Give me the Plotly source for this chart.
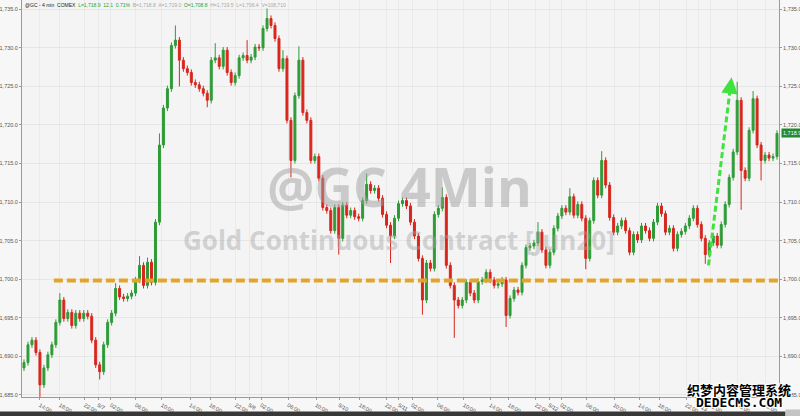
import plotly.graph_objects as go

# ---------------- data ----------------
CLOSES = [
    1689.2, 1691.5, 1692.1, 1690.5, 1686.3, 1688.5, 1690.2, 1691.5, 1694.4, 1697.3,
    1694.9, 1695.7, 1694.0, 1695.6, 1694.9, 1695.6, 1695.2, 1692.1, 1688.9, 1688.0,
    1691.5, 1694.4, 1695.6, 1698.8, 1697.7, 1697.5, 1697.8, 1698.2, 1699.9, 1701.8,
    1699.2, 1702.2, 1699.6, 1707.4, 1717.4, 1722.2, 1724.7, 1730.3, 1731.0, 1728.4,
    1727.3, 1726.8, 1725.5, 1725.2, 1724.7, 1724.1, 1723.2, 1728.4, 1728.7, 1727.6,
    1729.7, 1726.8, 1725.5, 1726.4, 1728.7, 1729.0, 1728.4, 1728.8, 1730.1, 1730.0,
    1732.5, 1733.8, 1732.9, 1731.2, 1727.3, 1728.6, 1720.6, 1715.4, 1723.8, 1728.4,
    1721.6, 1720.6, 1715.4, 1715.9, 1713.1, 1709.3, 1708.9, 1706.3, 1709.3, 1705.3,
    1709.6, 1708.3, 1708.9, 1708.1, 1707.9, 1710.2, 1712.3, 1711.5, 1711.8, 1710.5,
    1708.4, 1707.0, 1705.6, 1707.9, 1709.8, 1710.2, 1709.5, 1707.4, 1705.6, 1702.7,
    1697.3, 1702.1, 1701.4, 1708.4, 1709.2, 1710.6, 1701.8, 1699.2, 1697.3, 1696.6,
    1697.3, 1699.6, 1698.2, 1697.3, 1699.7, 1699.9, 1700.9, 1699.9, 1699.2, 1699.4,
    1699.9, 1695.3, 1697.5, 1698.6, 1698.3, 1701.8, 1704.1, 1704.3, 1704.7, 1706.1,
    1703.8, 1701.8, 1703.5, 1706.6, 1708.2, 1709.2, 1708.7, 1710.7, 1708.3, 1709.7,
    1707.9, 1702.7, 1707.6, 1712.8, 1710.9, 1715.4, 1712.2, 1708.0, 1706.1, 1706.9,
    1707.6, 1706.3, 1703.5, 1705.8, 1705.1, 1706.9, 1706.3, 1705.3, 1707.4, 1709.5,
    1708.5, 1706.1, 1706.6, 1704.0, 1705.8, 1706.2, 1706.9, 1707.9, 1709.2, 1707.1,
    1705.3, 1703.2, 1704.7, 1705.6, 1704.4, 1707.1, 1709.7, 1713.2, 1716.5, 1723.2,
    1714.1, 1713.1, 1719.3, 1723.4, 1717.4, 1715.4, 1716.1, 1715.7, 1715.9, 1718.9,
]
FIRST_OPEN = 1688.5

# notable wick extremes: candle index -> (high, low); None = body edge
WICK_EXTREMES = {
    4: (None, 1684.6), 9: (1698.2, None), 19: (None, 1687.0), 23: (1699.5, None),
    29: (1703.0, None), 31: (1702.8, None), 34: (1718.9, None), 38: (1732.9, None),
    39: (None, 1725.0), 46: (None, 1722.3), 48: (1730.6, None), 56: (1731.0, None),
    61: (1735.1, None), 65: (1729.7, None), 67: (None, 1713.2), 69: (1730.2, None),
    79: (None, 1703.2), 86: (1713.7, None), 92: (None, 1702.1), 100: (None, 1695.4),
    105: (1711.9, None), 108: (None, 1692.4), 121: (None, 1693.8), 129: (1707.4, None),
    137: (1711.8, None), 141: (None, 1701.3), 145: (1716.6, None), 171: (None, 1702.0),
    179: (1725.6, None), 180: (None, 1709.0), 183: (1724.4, None), 185: (None, 1712.8),
}
WICK = 0.4

TICK_POS = [4.0, 9.0, 15.3, 18.6, 21.8, 28.1, 34.6, 41.7, 46.7, 53.2, 56.5, 59.5,
            66.3, 73.3, 79.1, 84.3, 90.9, 94.1, 97.4, 103.9, 110.4, 117.0, 121.7,
            128.5, 131.8, 134.8, 141.3, 148.1, 154.4, 159.4, 166.2, 169.2, 172.2,
            179.2, 186.0]
TICK_TEXT = ["14:00", "18:00", "22:00", "5/7", "02:00", "06:00", "10:00", "14:00",
             "18:00", "22:00", "5/8", "02:00", "06:00", "10:00", "5/10", "18:00",
             "22:00", "5/11", "02:00", "06:00", "10:00", "14:00", "18:00", "22:00",
             "5/12", "02:00", "06:00", "10:00", "14:00", "18:00", "22:00", "5/13",
             "02:00", "06:00", "10:00"]

Y_TICKS = [1685, 1690, 1695, 1700, 1705, 1710, 1715, 1720, 1725, 1730, 1735]
Y_RANGE = [1684.73, 1736.2]

SUPPORT_LEVEL = 1699.85
SUPPORT_START = 7.5
ARROW_FROM = (171.8, 1701.8)
ARROW_TO = (177.6, 1726.2)
LAST_PRICE = 1718.9

# ---------------- build OHLC ----------------
n = len(CLOSES)
idx = list(range(n))
opens = [FIRST_OPEN] + CLOSES[:-1]
highs, lows = [], []
for i in idx:
    o, c = opens[i], CLOSES[i]
    h = max(o, c) + WICK
    l = min(o, c) - WICK
    if i in WICK_EXTREMES:
        eh, el = WICK_EXTREMES[i]
        if eh is not None:
            h = max(h, eh)
        if el is not None:
            l = min(l, el)
    highs.append(h)
    lows.append(l)

GREEN = "#2e9b37"
RED = "#d8261d"

fig = go.Figure()
fig.add_trace(go.Candlestick(
    x=idx, open=opens, high=highs, low=lows, close=CLOSES,
    increasing=dict(line=dict(color=GREEN, width=1), fillcolor=GREEN),
    decreasing=dict(line=dict(color=RED, width=1), fillcolor=RED),
    whiskerwidth=0, showlegend=False, hoverinfo="skip",
))
# support line (on left overlay axis so that axis renders)
fig.add_trace(go.Scatter(
    x=[SUPPORT_START, n - 0.5], y=[SUPPORT_LEVEL, SUPPORT_LEVEL], yaxis="y2",
    mode="lines", line=dict(color="#e2a52c", width=4, dash="9px,4px"),
    showlegend=False, hoverinfo="skip",
))

# green dashed arrow
fig.add_shape(type="line", xref="x", yref="y",
              x0=ARROW_FROM[0], y0=ARROW_FROM[1],
              x1=ARROW_FROM[0] + (ARROW_TO[0] - ARROW_FROM[0]) * 0.93,
              y1=ARROW_FROM[1] + (ARROW_TO[1] - ARROW_FROM[1]) * 0.93,
              line=dict(color="#3fe23f", width=3, dash="6px,3px"))
fig.add_annotation(x=ARROW_TO[0], y=ARROW_TO[1], xref="x", yref="y",
                   ax=ARROW_FROM[0] + (ARROW_TO[0] - ARROW_FROM[0]) * 0.9,
                   ay=ARROW_FROM[1] + (ARROW_TO[1] - ARROW_FROM[1]) * 0.9,
                   axref="x", ayref="y", text="", showarrow=True,
                   arrowhead=2, arrowsize=1.1, arrowwidth=3, arrowcolor="#3fe23f",
                   standoff=0)

# watermarks
fig.add_annotation(text="@GC 4Min", x=0.4993, y=0.529, xref="paper", yref="paper",
                   showarrow=False, xanchor="center", yanchor="middle",
                   font=dict(family="Open Sans", size=53, color="rgba(160,160,160,0.5)",
                             weight="bold"))
fig.add_annotation(text="Gold Continuous Contract [Jun20]", x=0.4980, y=0.395,
                   xref="paper", yref="paper", showarrow=False,
                   xanchor="center", yanchor="middle",
                   font=dict(family="Open Sans", size=26, color="rgba(165,165,165,0.45)",
                             weight="bold"))

# header
header = ("<span style='color:#222'>@GC - 4 min  COMEX</span>  "
          "<span style='color:#27a327'>L=1,718.9  12.1  0.71%</span>  "
          "<span style='color:#a8a8a8'>B=1,718.8  A=1,719.0</span>  "
          "<span style='color:#27a327'>O=1,708.8</span>  "
          "<span style='color:#a8a8a8'>H=1,719.5  L=1,706.4  V=108,710</span>")
fig.add_annotation(text=header, x=0.001, y=1.0, xref="paper", yref="paper",
                   xanchor="left", yanchor="top", showarrow=False,
                   font=dict(family="Arial", size=5, color="#222"))

# last price tag
fig.add_annotation(text="1,718.9", x=1.0, y=LAST_PRICE, xref="paper", yref="y",
                   xanchor="left", yanchor="middle", showarrow=False, xshift=2,
                   bgcolor="#238a33", borderpad=1,
                   font=dict(family="Arial", size=5.5, color="white"))

# bottom dark status bar (annotation boxes so they render in the margin)
fig.add_annotation(text="&nbsp;", x=-0.03, y=0.0, xref="paper", yref="paper",
                   xanchor="left", yanchor="top", yshift=-14, showarrow=False,
                   width=785, height=6, bgcolor="#383838", borderpad=0,
                   font=dict(size=1, color="#383838"))
fig.add_annotation(text="&nbsp;", x=1.008, y=0.0, xref="paper", yref="paper",
                   xanchor="left", yanchor="top", yshift=-12, showarrow=False,
                   width=16, height=8, bgcolor="#c4c4c4", borderpad=0,
                   font=dict(size=1, color="#c4c4c4"))

# site watermark bottom-right
outline = "1px 1px 0 #fff, -1px -1px 0 #fff, 1px -1px 0 #fff, -1px 1px 0 #fff"
fig.add_annotation(text="织梦内容管理系统", x=1.0, y=0.0, xref="paper", yref="paper",
                   xanchor="center", yanchor="middle", showarrow=False,
                   xshift=-40, yshift=8,
                   font=dict(family="Noto Sans CJK SC", size=13, color="#000",
                             weight="bold", shadow=outline))
fig.add_annotation(text="DEDECMS.COM", x=1.0, y=0.0, xref="paper", yref="paper",
                   xanchor="center", yanchor="middle", showarrow=False,
                   xshift=-40, yshift=-5,
                   font=dict(family="DejaVu Sans Mono", size=13, color="#000",
                             weight="bold", shadow=outline))

axis_font = dict(family="Arial", size=5.5, color="#555")
fig.update_layout(
    width=800, height=416,
    margin=dict(l=22, r=21, t=0, b=19, autoexpand=False),
    paper_bgcolor="#f7f7f7", plot_bgcolor="#f4f4f4",
    xaxis=dict(range=[-0.5, n - 0.5], tickvals=TICK_POS, ticktext=TICK_TEXT,
               tickfont=axis_font, showgrid=True, gridcolor="#eaeaea", gridwidth=1,
               showline=True, linecolor="#9a9a9a", linewidth=1,
               ticks="outside", ticklen=2, tickcolor="#9a9a9a", automargin=False,
               rangeslider=dict(visible=False), zeroline=False, fixedrange=True),
    yaxis=dict(range=Y_RANGE, side="right", tickvals=Y_TICKS,
               ticktext=[f"{v:,.1f}" for v in Y_TICKS], tickfont=axis_font,
               showgrid=True, gridcolor="#e6e6e6", gridwidth=1, automargin=False,
               showline=True, linecolor="#9a9a9a", linewidth=1,
               ticks="outside", ticklen=2, tickcolor="#9a9a9a", zeroline=False),
    yaxis2=dict(range=Y_RANGE, side="left", overlaying="y", tickvals=Y_TICKS,
                ticktext=[f"{v:,.1f}" for v in Y_TICKS], tickfont=axis_font,
                showgrid=False, showline=True, linecolor="#9a9a9a", linewidth=1,
                automargin=False,
                ticks="outside", ticklen=2, tickcolor="#9a9a9a", zeroline=False),
    showlegend=False,
)

fig.write_html("out.html", config={"displayModeBar": False},
               post_script="document.body.style.margin='0';document.body.style.padding='0';")
